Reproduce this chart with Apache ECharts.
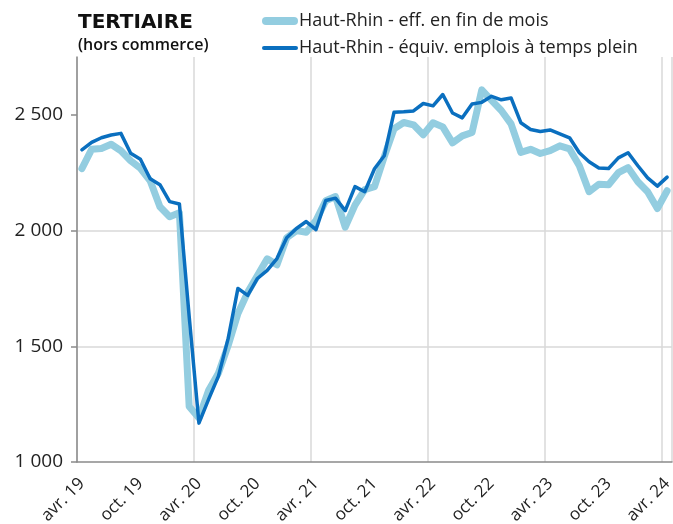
<!DOCTYPE html>
<html><head><meta charset="utf-8">
<script src="https://cdn.jsdelivr.net/npm/echarts@6/dist/echarts.min.js"></script>
<style>html,body{margin:0;padding:0;background:#fff}#c{width:673px;height:524px}</style>
</head><body><div id="c"></div>
<script>
const months = ['avr. 19','mai 19','juin 19','juil. 19','août 19','sept. 19','oct. 19','nov. 19','déc. 19','janv. 20','févr. 20','mars 20',
'avr. 20','mai 20','juin 20','juil. 20','août 20','sept. 20','oct. 20','nov. 20','déc. 20','janv. 21','févr. 21','mars 21',
'avr. 21','mai 21','juin 21','juil. 21','août 21','sept. 21','oct. 21','nov. 21','déc. 21','janv. 22','févr. 22','mars 22',
'avr. 22','mai 22','juin 22','juil. 22','août 22','sept. 22','oct. 22','nov. 22','déc. 22','janv. 23','févr. 23','mars 23',
'avr. 23','mai 23','juin 23','juil. 23','août 23','sept. 23','oct. 23','nov. 23','déc. 23','janv. 24','févr. 24','mars 24','avr. 24'];

const effFinDeMois = [2268,2351,2355,2373,2345,2302,2269,2215,2103,2060,2077,1240,
1190,1310,1384,1504,1642,1733,1806,1878,1852,1969,2000,1993,
2043,2129,2147,2015,2110,2177,2190,2319,2440,2467,2457,2414,
2466,2448,2379,2409,2424,2608,2563,2519,2461,2338,2351,2333,
2345,2366,2353,2280,2168,2200,2198,2250,2272,2211,2168,2095,2172];

const equivETP = [2349,2381,2401,2413,2420,2334,2308,2224,2198,2125,2115,1629,
1168,1272,1371,1534,1750,1720,1793,1828,1879,1969,2009,2039,
2004,2130,2140,2086,2190,2168,2267,2323,2511,2513,2517,2549,
2539,2588,2508,2487,2547,2554,2580,2565,2573,2466,2437,2428,
2435,2418,2401,2336,2297,2270,2268,2314,2336,2280,2228,2192,2231];

const yTicks = [1000,1500,2000,2500];
const seriesNames = ['Haut-Rhin - eff. en fin de mois','Haut-Rhin - équiv. emplois à temps plein'];
const titleText = 'TERTIAIRE';
const subtitleText = '(hors commerce)';

const FONT = '"Open Sans", "Noto Sans", sans-serif';
const LIGHT = '#93cde0', DARK = '#0a6fbf';
const chart = echarts.init(document.getElementById('c'), null, {renderer:'canvas'});
chart.setOption({
  animation:false,
  textStyle:{fontFamily:FONT},
  title:{
    text:titleText, subtext:subtitleText,
    left:73, top:8, itemGap:4,
    textStyle:{fontFamily:'"DejaVu Sans", sans-serif',fontSize:20,fontWeight:'bold',color:'#111'},
    subtextStyle:{fontFamily:FONT,fontSize:16,fontWeight:600,color:'#111'}
  },
  legend:{
    orient:'vertical', left:257, top:7, itemWidth:36, itemHeight:14, itemGap:9,
    textStyle:{fontFamily:FONT,fontSize:18,color:'#222',padding:[0,0,0,-4]},
    data:[
      {name:seriesNames[0], icon:'path://M4,0 L32,0 A4,4 0 0 1 32,8 L4,8 A4,4 0 0 1 4,0 Z', itemStyle:{color:LIGHT}},
      {name:seriesNames[1], icon:'path://M2,0 L34,0 A2,2 0 0 1 34,4 L2,4 A2,2 0 0 1 2,0 Z', itemStyle:{color:DARK}}
    ]
  },
  grid:{left:77,right:1,top:57,bottom:62,containLabel:false,outerBoundsMode:'none'},
  xAxis:{
    type:'category', data:months, boundaryGap:true,
    axisLine:{lineStyle:{color:'#8a8a8a',width:1.5}},
    axisTick:{interval:5,length:6,lineStyle:{color:'#8a8a8a',width:1.5}},
    axisLabel:{interval:5,rotate:45,fontSize:17,color:'#222',margin:19,fontFamily:FONT},
    splitLine:{show:true,interval:11,lineStyle:{color:'#d9d9d9',width:1.5}}
  },
  yAxis:{
    type:'value', min:1000, max:2750, interval:500,
    axisLine:{show:true,lineStyle:{color:'#8a8a8a',width:1.5}},
    axisTick:{show:true,length:6,customValues:yTicks,lineStyle:{color:'#8a8a8a',width:1.5}},
    axisLabel:{fontSize:19,color:'#222',margin:14,fontFamily:FONT,customValues:yTicks,
      formatter:v=>String(v).replace(/\B(?=(\d{3})+(?!\d))/g,' ')},
    splitLine:{show:true,showMinLine:false,showMaxLine:false,lineStyle:{color:'#d9d9d9',width:1.5}}
  },
  series:[
    {name:seriesNames[0],type:'line',data:effFinDeMois,showSymbol:false,symbol:'none',
     lineStyle:{color:LIGHT,width:7,cap:'round',join:'round'},itemStyle:{color:LIGHT}},
    {name:seriesNames[1],type:'line',data:equivETP,showSymbol:false,symbol:'none',
     lineStyle:{color:DARK,width:3.5,cap:'round',join:'round'},itemStyle:{color:DARK}}
  ]
});
</script></body></html>
